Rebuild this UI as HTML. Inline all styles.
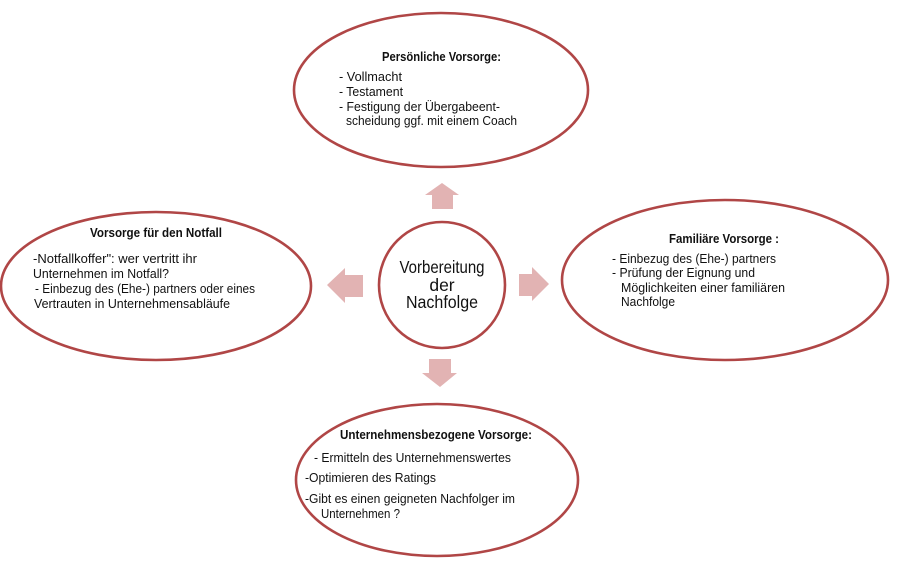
<!DOCTYPE html>
<html><head><meta charset="utf-8"><style>
html,body{margin:0;padding:0;background:#fff;width:897px;height:565px;overflow:hidden}
svg{display:block}
text{font-family:"Liberation Sans",sans-serif;font-size:13px;fill:#111}
.b{font-weight:bold;font-size:12.5px}
</style></head><body>
<svg width="897" height="565" viewBox="0 0 897 565" xmlns="http://www.w3.org/2000/svg">
<g fill="#fff" stroke="#b04646" stroke-width="2.6">
<ellipse cx="441" cy="90" rx="147" ry="77"/>
<ellipse cx="156" cy="286" rx="155" ry="74"/>
<ellipse cx="725" cy="280" rx="163" ry="80"/>
<ellipse cx="437" cy="480" rx="141" ry="76"/>
<circle cx="442" cy="285" r="63"/>
</g>
<g fill="#e2b3b3">
<polygon points="442,183 459,195 453,195 453,209 432,209 432,195 425,195"/>
<polygon points="327,285 345,268 345,275 363,275 363,297 345,297 345,303"/>
<polygon points="549,284 532,267 532,274 519,274 519,296 532,296 532,301"/>
<polygon points="440,387 457,373 451,373 451,359 429,359 429,373 422,373"/>
</g>
<g style="font-size:17.5px">
<text x="442" y="273" text-anchor="middle" textLength="85" lengthAdjust="spacingAndGlyphs" style="font-size:17.5px">Vorbereitung</text>
<text x="442" y="291" text-anchor="middle" style="font-size:17.5px">der</text>
<text x="442" y="308" text-anchor="middle" textLength="72" lengthAdjust="spacingAndGlyphs" style="font-size:17.5px">Nachfolge</text>
</g>
<text class="b" x="382" y="61" textLength="119" lengthAdjust="spacingAndGlyphs">Persönliche Vorsorge:</text>
<text x="339" y="81" textLength="63" lengthAdjust="spacingAndGlyphs">- Vollmacht</text>
<text x="339" y="96" textLength="64" lengthAdjust="spacingAndGlyphs">- Testament</text>
<text x="339" y="111" textLength="161" lengthAdjust="spacingAndGlyphs">- Festigung der  Übergabeent-</text>
<text x="346" y="125" textLength="171" lengthAdjust="spacingAndGlyphs">scheidung ggf. mit einem Coach</text>

<text class="b" x="90" y="237" textLength="132" lengthAdjust="spacingAndGlyphs">Vorsorge für den Notfall</text>
<text x="33" y="263" textLength="164" lengthAdjust="spacingAndGlyphs">-Notfallkoffer": wer vertritt ihr</text>
<text x="33" y="278" textLength="136" lengthAdjust="spacingAndGlyphs">Unternehmen im Notfall?</text>
<text x="35" y="293" textLength="220" lengthAdjust="spacingAndGlyphs">- Einbezug des (Ehe-) partners oder eines</text>
<text x="34" y="308" textLength="196" lengthAdjust="spacingAndGlyphs">Vertrauten in Unternehmensabläufe</text>

<text class="b" x="669" y="243" textLength="110" lengthAdjust="spacingAndGlyphs">Familiäre Vorsorge :</text>
<text x="612" y="263" textLength="164" lengthAdjust="spacingAndGlyphs">-  Einbezug des (Ehe-) partners</text>
<text x="612" y="277" textLength="143" lengthAdjust="spacingAndGlyphs">-  Prüfung der Eignung und</text>
<text x="621" y="292" textLength="164" lengthAdjust="spacingAndGlyphs">Möglichkeiten einer familiären</text>
<text x="621" y="306" textLength="54" lengthAdjust="spacingAndGlyphs">Nachfolge</text>

<text class="b" x="340" y="439" textLength="192" lengthAdjust="spacingAndGlyphs">Unternehmensbezogene Vorsorge:</text>
<text x="314" y="462" textLength="197" lengthAdjust="spacingAndGlyphs">- Ermitteln des Unternehmenswertes</text>
<text x="305" y="482" textLength="131" lengthAdjust="spacingAndGlyphs">-Optimieren des Ratings</text>
<text x="305" y="503" textLength="210" lengthAdjust="spacingAndGlyphs">-Gibt es einen geigneten Nachfolger im</text>
<text x="321" y="518" textLength="79" lengthAdjust="spacingAndGlyphs">Unternehmen ?</text>
</svg>
</body></html>
